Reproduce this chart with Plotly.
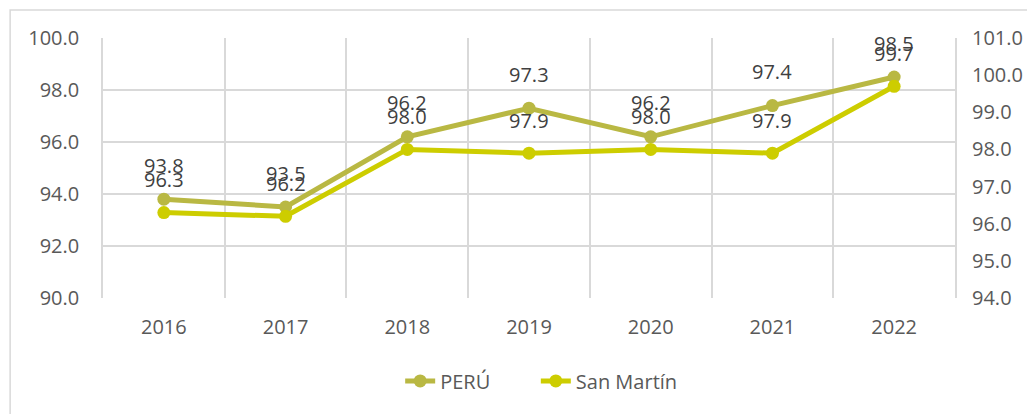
import plotly.graph_objects as go

years = ["2016", "2017", "2018", "2019", "2020", "2021", "2022"]
peru = [93.8, 93.5, 96.2, 97.3, 96.2, 97.4, 98.5]
san_martin = [96.3, 96.2, 98.0, 97.9, 98.0, 97.9, 99.7]

c_peru = "#B9B843"
c_sm = "#CDCD00"
font_family = "Open Sans, Noto Sans, sans-serif"
grid = "#D9D9D9"

fig = go.Figure()
fig.add_trace(go.Scatter(x=years, y=peru, name="PERÚ", mode="lines+markers",
                         line=dict(color=c_peru, width=5),
                         marker=dict(color=c_peru, size=13), yaxis="y", legend="legend"))
fig.add_trace(go.Scatter(x=years, y=san_martin, name="San Martín", mode="lines+markers",
                         line=dict(color=c_sm, width=5),
                         marker=dict(color=c_sm, size=13), yaxis="y2", legend="legend2"))

annotations = []
for i, v in enumerate(peru):
    annotations.append(dict(x=i, y=v, xref="x", yref="y", text=f"{v:.1f}", showarrow=False,
                            yshift=34, font=dict(size=20, color="#404040", family=font_family)))
for i, v in enumerate(san_martin):
    annotations.append(dict(x=i, y=v, xref="x", yref="y2", text=f"{v:.1f}", showarrow=False,
                            yshift=33, font=dict(size=20, color="#404040", family=font_family)))

legend_style = dict(orientation="h", y=-0.319, yanchor="middle", xanchor="left",
                    bgcolor="rgba(0,0,0,0)", font=dict(size=20, color="#595959"))

fig.update_layout(
    width=1027, height=406,
    margin=dict(l=95, r=72, t=30, b=116),
    paper_bgcolor="white", plot_bgcolor="white",
    font=dict(family=font_family, size=20, color="#595959"),
    showlegend=True,
    legend=dict(x=0.3488, **legend_style),
    legend2=dict(x=0.508, **legend_style),
    xaxis=dict(type="category", categoryorder="array", categoryarray=years,
               range=[-0.5, len(years) - 0.5], autorange=False,
               tickson="boundaries", showgrid=True, gridcolor=grid,
               gridwidth=1.5, ticks="", showline=False, zeroline=False,
               ticklabelstandoff=15, tickfont=dict(size=20)),
    yaxis=dict(range=[90, 100], dtick=2, tickformat=".1f", showgrid=True, gridcolor=grid,
               gridwidth=1.5, zeroline=False, ticks="", ticklabelstandoff=18,
               showline=True, mirror=True, linecolor=grid, linewidth=1.5,
               tickfont=dict(size=20)),
    yaxis2=dict(range=[94, 101], dtick=1, tickformat=".1f", overlaying="y", side="right",
                showgrid=False, zeroline=False, ticks="", ticklabelstandoff=16,
                tickfont=dict(size=20)),
    annotations=annotations,
    shapes=[dict(type="rect", xref="paper", yref="paper", x0=-0.109, x1=1.12,
                 y0=-0.6, y1=1.1077, line=dict(color=grid, width=1.5),
                 fillcolor="rgba(0,0,0,0)", layer="below")],
)

fig.write_html("out.html")
